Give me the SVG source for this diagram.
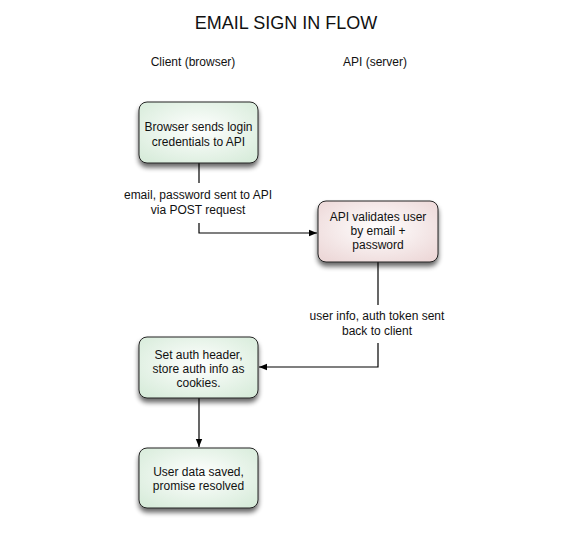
<svg xmlns="http://www.w3.org/2000/svg" width="576" height="550" viewBox="0 0 576 550">
<style>
text{font-family:"Liberation Sans",Arial,sans-serif;fill:#111;text-anchor:middle}
.t{font-size:18px}
.h{font-size:12px}
.n{font-size:12px}
.c{font-size:12px}
.box{stroke:#222;stroke-width:1}
.g{fill:url(#gg)}
.p{fill:url(#pg)}
.ln{fill:none;stroke:#000;stroke-width:1.2}
</style>
<defs>
<radialGradient id="gg" cx="50%" cy="45%" r="70%">
<stop offset="0" stop-color="#ffffff"/>
<stop offset="1" stop-color="#d6ebd9"/>
</radialGradient>
<radialGradient id="pg" cx="50%" cy="45%" r="70%">
<stop offset="0" stop-color="#ffffff"/>
<stop offset="1" stop-color="#ecd6d6"/>
</radialGradient>
<filter id="sh" x="-20%" y="-20%" width="140%" height="150%">
<feGaussianBlur in="SourceAlpha" stdDeviation="2.5"/>
<feOffset dx="0" dy="4" result="b"/>
<feComponentTransfer><feFuncA type="linear" slope="0.6"/></feComponentTransfer>
<feMerge><feMergeNode/><feMergeNode in="SourceGraphic"/></feMerge>
</filter>
<marker id="ah" viewBox="0 0 10 10" refX="10" refY="5" markerWidth="8" markerHeight="8" markerUnits="userSpaceOnUse" orient="auto">
<path d="M0,1 L10,5 L0,9 z" fill="#000"/>
</marker>
</defs>
<rect width="576" height="550" fill="#fff"/>
<text class="t" x="286" y="29">EMAIL SIGN IN FLOW</text>
<text class="h" x="193" y="66">Client (browser)</text>
<text class="h" x="375" y="66">API (server)</text>

<g id="connectors">
<g id="c1">
<path class="ln" d="M199,163 V183"/>
<path class="ln" d="M199,223 V233 H317" marker-end="url(#ah)"/>
<text class="c" x="198" y="199">email, password sent to API</text>
<text class="c" x="198" y="214">via POST request</text>
</g>
<g id="c2">
<path class="ln" d="M378,262 V305"/>
<path class="ln" d="M378,343 V367 H259" marker-end="url(#ah)"/>
<text class="c" x="377" y="320">user info, auth token sent</text>
<text class="c" x="377" y="335">back to client</text>
</g>
<g id="c3">
<path class="ln" d="M199,398 V447" marker-end="url(#ah)"/>
</g>
</g>

<g id="n1">
<rect class="box g" x="139" y="102" width="119" height="61" rx="8" filter="url(#sh)"/>
<text class="n" x="198.5" y="131">Browser sends login</text>
<text class="n" x="198.5" y="146">credentials to API</text>
</g>
<g id="n2">
<rect class="box p" x="318" y="201" width="120" height="61" rx="8" filter="url(#sh)"/>
<text class="n" x="378" y="221">API validates user</text>
<text class="n" x="378" y="235">by email +</text>
<text class="n" x="378" y="249">password</text>
</g>
<g id="n3">
<rect class="box g" x="139" y="337" width="119" height="61" rx="8" filter="url(#sh)"/>
<text class="n" x="198.5" y="359">Set auth header,</text>
<text class="n" x="198.5" y="373">store auth info as</text>
<text class="n" x="198.5" y="387">cookies.</text>
</g>
<g id="n4">
<rect class="box g" x="139" y="448" width="119" height="60" rx="8" filter="url(#sh)"/>
<text class="n" x="198.5" y="476">User data saved,</text>
<text class="n" x="198.5" y="490">promise resolved</text>
</g>
</svg>
